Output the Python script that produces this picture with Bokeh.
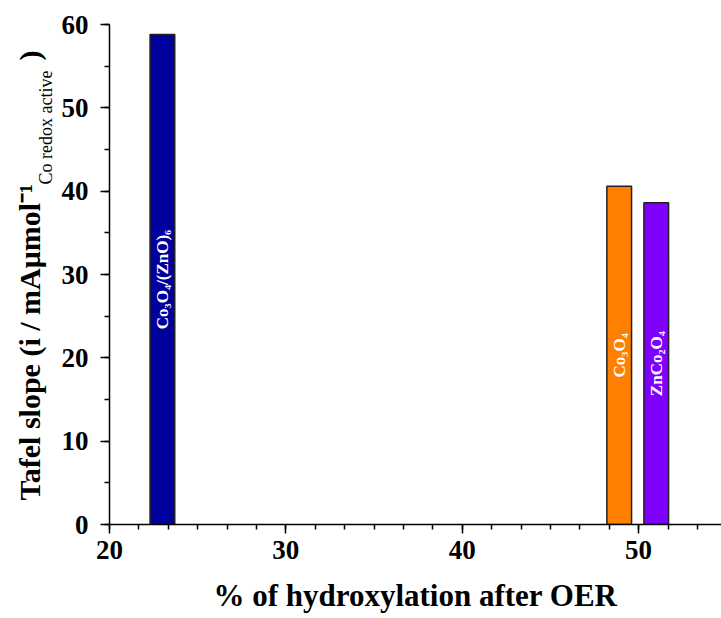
import math
from bokeh.plotting import figure
from bokeh.layouts import row
from bokeh.models import ColumnDataSource, Range1d, SingleIntervalTicker, Label
from bokeh.core.properties import value
from bokeh.embed import file_html
from bokeh.resources import INLINE

# ---- data ----
hydroxylation = [23.0, 48.9, 51.0]          # % of hydroxylation after OER
tafel_slope = [58.8, 40.6, 38.6]             # Tafel slope (i / mA umol^-1 Co redox active)
materials = ["Co₃O₄/(ZnO)₆", "Co₃O₄", "ZnCo₂O₄"]
bar_colors = ["#00009C", "#FF8000", "#8000FF"]

FONT = "Liberation Serif"
TITLE_W = 58          # width of the strip holding the y-axis title
H = 618
FRAME_BOTTOM = 524    # frames of both figures are aligned by the row layout

src = ColumnDataSource(dict(
    x=hydroxylation,
    top=tafel_slope,
    mid=[v / 2 for v in tafel_slope],
    name=materials,
    color=bar_colors,
))

p = figure(width=721 - TITLE_W, height=H, output_backend="svg", toolbar_location=None,
           x_range=Range1d(20, 54.7), y_range=Range1d(0, 60),
           min_border_left=108 - TITLE_W, min_border_right=0, min_border_top=24,
           min_border_bottom=H - FRAME_BOTTOM)
p.outline_line_color = None
p.grid.grid_line_color = None

p.vbar(x="x", top="top", bottom=0, width=1.4, fill_color="color",
       line_color="#222222", line_width=1.5, source=src)

p.text(x="x", y="mid", text="name", angle=math.pi / 2, source=src,
       text_color="white", text_font=value(FONT), text_font_style="bold",
       text_font_size="17px", text_align="center", text_baseline="middle")

# axes
p.xaxis.ticker = SingleIntervalTicker(interval=10, num_minor_ticks=6)
p.yaxis.ticker = SingleIntervalTicker(interval=10, num_minor_ticks=2)
for ax in (p.xaxis[0], p.yaxis[0]):
    ax.axis_line_width = 1.5
    ax.axis_line_color = "black"
    ax.major_tick_line_width = 1.5
    ax.minor_tick_line_width = 1.5
    ax.major_tick_in = 0
    ax.major_tick_out = 9
    ax.minor_tick_in = 0
    ax.minor_tick_out = 5
    ax.major_label_text_font = FONT
    ax.major_label_text_font_style = "bold"
    ax.major_label_text_font_size = "27px"
    ax.major_label_text_color = "black"
p.xaxis.major_label_standoff = 7
p.yaxis.major_label_standoff = 12

p.xaxis.axis_label = "% of hydroxylation after OER"
p.xaxis.axis_label_text_font = FONT
p.xaxis.axis_label_text_font_style = "bold"
p.xaxis.axis_label_text_font_size = "31px"
p.xaxis.axis_label_text_color = "black"
p.xaxis.axis_label_standoff = 16

# ---- strip with the y-axis title ----
t = figure(width=TITLE_W, height=H, output_backend="svg", toolbar_location=None,
           x_axis_location=None, y_axis_location=None,
           x_range=Range1d(0, TITLE_W), y_range=Range1d(0, 500),
           min_border=0)
t.outline_line_color = None
t.grid.grid_line_color = None


def lab(text, cx, cy, size, style="bold"):
    t.add_layout(Label(x=cx, y=FRAME_BOTTOM - cy, x_units="screen", y_units="screen",
                       text=text, angle=math.pi / 2, text_font=FONT,
                       text_font_style=style, text_font_size=size,
                       text_align="left", text_baseline="alphabetic",
                       text_color="black"))


lab("Tafel slope (i / mAμmol⁻¹", 29, 500, "30px")
lab("Co redox active", 45, 184, "18px", style="normal")
lab(")", 29, 60, "30px")

layout = row(t, p, spacing=0)
open("out.html", "w").write(file_html(layout, INLINE))
